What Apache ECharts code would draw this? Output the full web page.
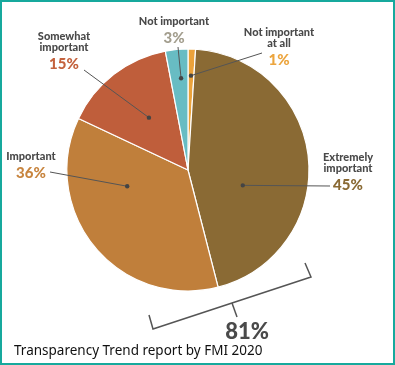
<!DOCTYPE html>
<html><head><meta charset="utf-8">
<script src="https://cdn.jsdelivr.net/npm/echarts@6/dist/echarts.min.js"></script>
<style>html,body{margin:0;padding:0;background:#fff}#c{width:395px;height:365px}</style>
</head><body><div id="c"></div>
<script>
// ---- data ----
const categories = ['Not important at all', 'Extremely important', 'Important', 'Somewhat important', 'Not important'];
const labelNameLines = [['Not important', 'at all'], ['Extremely', 'important'], ['Important'], ['Somewhat', 'important'], ['Not important']];
const values = [1, 45, 36, 15, 3];
const bracketCategories = ['Extremely important', 'Important'];
const sourceText = 'Transparency Trend report by FMI 2020';

// ---- style / layout ----
const sliceColors = ['#EBA23B', '#8A6A34', '#C07F3B', '#BF5E3B', '#68BCC3'];
const pctColors = ['#ECA53E', '#8A6A34', '#C8853F', '#C4623D', '#A39E8E'];
const CX = 188, CY = 170, R = 121;
const labelAnchors = [[279, 27], [348, 152], [31, 151], [64, 31], [174, 16]];
const lineEnds = [[262, 53], [330, 186], [50, 172], [84, 70], [178, 47]];
const dotSpots = [[0.5, 0.78], [0.63, 0.47], [0.69, 0.52], [0.52, 0.54], [0.6, 0.76]];

const total = values.reduce((a, b) => a + b, 0);
let acc = 0;
const dots = values.map((v, i) => {
  const a0 = acc / total * 360; acc += v; const a1 = acc / total * 360;
  const th = (a0 + (a1 - a0) * dotSpots[i][0]) * Math.PI / 180;
  const r = R * dotSpots[i][1];
  return [CX + r * Math.sin(th), CY - r * Math.cos(th)];
});
const bracketSum = bracketCategories.reduce((s, c) => s + values[categories.indexOf(c)], 0);

const rich = { n: { fontFamily: 'Lato', fontWeight: 900, fontSize: 11, lineHeight: 11, color: '#4a4a4a', align: 'center' } };
pctColors.forEach((c, i) => { rich['p' + i] = { fontFamily: 'Lato', fontWeight: 900, fontSize: 15, lineHeight: 23, color: c, align: 'center' }; });

const graphics = [];
dots.forEach((d, i) => {
  graphics.push({ type: 'polyline', z: 100, silent: true, shape: { points: [d, lineEnds[i]] }, style: { stroke: '#555', lineWidth: 1, fill: null } });
  graphics.push({ type: 'circle', z: 101, silent: true, shape: { cx: d[0], cy: d[1], r: 2.2 }, style: { fill: '#444' } });
});
graphics.push({ type: 'polyline', z: 100, silent: true, shape: { points: [[149, 315], [153, 329], [311, 277], [305, 263]] }, style: { stroke: '#555', lineWidth: 1.5, fill: null } });
graphics.push({ type: 'polyline', z: 100, silent: true, shape: { points: [[232, 303], [237, 317]] }, style: { stroke: '#555', lineWidth: 1.5, fill: null } });
graphics.push({ type: 'text', z: 100, silent: true, style: { text: bracketSum + '%', x: 247, y: 332, align: 'center', verticalAlign: 'middle', font: '900 22px Lato', fill: '#4a4a4a' } });
graphics.push({ type: 'rect', z: 200, silent: true, shape: { x: 1, y: 1, width: 393, height: 363 }, style: { fill: null, stroke: '#17A99D', lineWidth: 2 } });

const chart = echarts.init(document.getElementById('c'), null, { renderer: 'canvas' });
chart.setOption({
  animation: false,
  backgroundColor: '#fff',
  title: { text: sourceText, left: 14, top: 344, padding: 0, textStyle: { fontFamily: 'Noto Sans', fontSize: 13.5, fontWeight: 'normal', color: '#111' } },
  graphic: graphics,
  series: [{
    type: 'pie', center: [CX, CY], radius: R, startAngle: 90, clockwise: true,
    avoidLabelOverlap: false, silent: true,
    itemStyle: { borderColor: '#fff', borderWidth: 1.2 },
    data: categories.map((c, i) => ({ name: c, value: values[i], itemStyle: { color: sliceColors[i] } })),
    label: {
      show: true, position: 'outside',
      formatter: p => labelNameLines[p.dataIndex].map(s => '{n|' + s + '}').join('\n') + '\n{p' + p.dataIndex + '|' + p.value + '%}',
      rich: rich
    },
    labelLine: { show: false },
    labelLayout: p => ({ x: labelAnchors[p.dataIndex][0], y: labelAnchors[p.dataIndex][1], align: 'center', verticalAlign: 'top' })
  }]
});
</script></body></html>
